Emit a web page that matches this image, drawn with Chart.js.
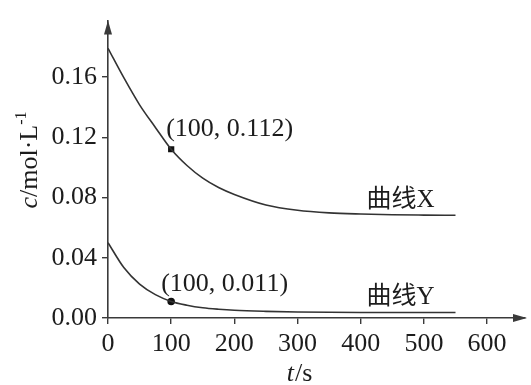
<!DOCTYPE html>
<html>
<head>
<meta charset="utf-8">
<script src="https://cdn.jsdelivr.net/npm/chart.js@4"></script>
<style>
html,body{margin:0;padding:0;background:#fff;}
#wrap{width:531px;height:385px;position:relative;}
</style>
</head>
<body>
<div id="wrap"><canvas id="c" width="531" height="385"></canvas></div>
<script>
// ---- data ----
const times   = [0, 25, 50, 75, 100, 125, 150, 175, 200, 250, 300, 350, 400, 450, 500, 550];
const curveX  = [0.179, 0.1595, 0.1415, 0.1265, 0.112, 0.1012, 0.0928, 0.0866, 0.082, 0.075, 0.0715, 0.0698, 0.069, 0.0685, 0.0683, 0.0682];
const curveY  = [0.050, 0.0335, 0.0225, 0.0155, 0.011, 0.0085, 0.0068, 0.0058, 0.0051, 0.0044, 0.0040, 0.0038, 0.0037, 0.0037, 0.0037, 0.0037];
const markedX = [100, 0.112];
const markedY = [100, 0.011];
const xTicks  = [0, 100, 200, 300, 400, 500, 600];
const yTicks  = [0.00, 0.04, 0.08, 0.12, 0.16];
const seriesNames = ['曲线X', '曲线Y'];
const pointLabels = ['(100, 0.112)', '(100, 0.011)'];

const INK = '#1c1c1c';
const AXIS = '#3a3a3a';
const SERIF = '"Liberation Serif", "DejaVu Serif", serif';
const CJK = '"Liberation Serif", "Noto Sans CJK SC", serif';
const FS = 26;

const toXY = (ys) => times.map((t, i) => ({x: t, y: ys[i]}));

const decor = {
  id: 'decor',
  afterDraw(chart) {
    const ctx = chart.ctx;
    const a = chart.chartArea;
    const xs = chart.scales.x, ys = chart.scales.y;
    ctx.save();
    // arrowheads
    ctx.fillStyle = AXIS;
    ctx.beginPath();
    ctx.moveTo(a.left, a.top);
    ctx.lineTo(a.left - 4, a.top + 14);
    ctx.lineTo(a.left + 4, a.top + 14);
    ctx.closePath(); ctx.fill();
    ctx.beginPath();
    ctx.moveTo(a.right + 2, a.bottom);
    ctx.lineTo(a.right - 12, a.bottom - 4);
    ctx.lineTo(a.right - 12, a.bottom + 4);
    ctx.closePath(); ctx.fill();

    ctx.fillStyle = INK;
    ctx.textBaseline = 'alphabetic';
    ctx.textAlign = 'left';
    // point labels
    ctx.font = FS + 'px ' + SERIF;
    const p1x = xs.getPixelForValue(markedX[0]), p1y = ys.getPixelForValue(markedX[1]);
    const p2x = xs.getPixelForValue(markedY[0]), p2y = ys.getPixelForValue(markedY[1]);
    ctx.fillText(pointLabels[0], p1x - 5, p1y - 13);
    ctx.fillText(pointLabels[1], p2x - 10, p2y - 10);
    // series labels
    ctx.font = '25px ' + CJK;
    const endX = xs.getPixelForValue(times[times.length - 1]);
    ctx.fillText(seriesNames[0], endX - 89, ys.getPixelForValue(curveX[curveX.length - 1]) - 8);
    ctx.fillText(seriesNames[1], endX - 89, ys.getPixelForValue(curveY[curveY.length - 1]) - 8);

    // x title  t/s
    const xt1 = 't', xt2 = '/s';
    ctx.font = 'italic ' + FS + 'px ' + SERIF;
    const w1 = ctx.measureText(xt1).width;
    ctx.font = FS + 'px ' + SERIF;
    const w2 = ctx.measureText(xt2).width;
    let tx = 299 - (w1 + w2) / 2;
    const tyb = 381;
    ctx.font = 'italic ' + FS + 'px ' + SERIF;
    ctx.fillText(xt1, tx, tyb);
    ctx.font = FS + 'px ' + SERIF;
    ctx.fillText(xt2, tx + w1 + 1, tyb);

    // y title  c/mol·L-1 (rotated)
    ctx.translate(37, 160);
    ctx.rotate(-Math.PI / 2);
    const parts = [
      {t: 'c', f: 'italic ' + FS + 'px ' + SERIF, dy: 0},
      {t: '/mol·L', f: FS + 'px ' + SERIF, dy: 0},
      {t: '-1', f: '16px ' + SERIF, dy: -11}
    ];
    let tot = 0;
    parts.forEach(p => { ctx.font = p.f; p.w = ctx.measureText(p.t).width; tot += p.w; });
    let px = -tot / 2;
    parts.forEach(p => { ctx.font = p.f; ctx.fillText(p.t, px, p.dy); px += p.w; });
    ctx.restore();
  }
};

new Chart(document.getElementById('c'), {
  type: 'line',
  data: {
    datasets: [
      {label: seriesNames[0], data: toXY(curveX), borderColor: '#333', borderWidth: 1.6,
       pointRadius: 0, cubicInterpolationMode: 'monotone', fill: false},
      {label: seriesNames[1], data: toXY(curveY), borderColor: '#333', borderWidth: 1.6,
       pointRadius: 0, cubicInterpolationMode: 'monotone', fill: false},
      {type: 'scatter', data: [{x: markedX[0], y: markedX[1]}], pointStyle: 'rect',
       pointRadius: 4.4, backgroundColor: '#111', borderColor: '#111', borderWidth: 0},
      {type: 'scatter', data: [{x: markedY[0], y: markedY[1]}], pointStyle: 'circle',
       pointRadius: 3.8, backgroundColor: '#111', borderColor: '#111', borderWidth: 0}
    ]
  },
  options: {
    responsive: false,
    animation: false,
    events: [],
    layout: {padding: {top: 12, right: 6, left: 0, bottom: 0}},
    plugins: {legend: {display: false}, tooltip: {enabled: false}, title: {display: false}},
    scales: {
      x: {
        type: 'linear', min: 0, max: 660,
        afterBuildTicks: s => { s.ticks = xTicks.map(v => ({value: v})); },
        afterFit: s => { s.height = 67; },
        grid: {drawOnChartArea: false, drawTicks: true, tickLength: 6, color: AXIS, lineWidth: 1.4},
        border: {color: AXIS, width: 1.6},
        ticks: {color: INK, padding: 5, font: {family: SERIF, size: FS},
                callback: v => String(v), maxRotation: 0, autoSkip: false}
      },
      y: {
        type: 'linear', min: 0, max: 0.1974,
        afterBuildTicks: s => { s.ticks = yTicks.map(v => ({value: v})); },
        afterFit: s => { s.width = 108; },
        grid: {drawOnChartArea: false, drawTicks: true, tickLength: 6, color: AXIS, lineWidth: 1.4},
        border: {color: AXIS, width: 1.6},
        ticks: {color: INK, padding: 5, font: {family: SERIF, size: FS},
                callback: v => Number(v).toFixed(2), autoSkip: false}
      }
    }
  },
  plugins: [decor]
});
</script>
</body>
</html>
